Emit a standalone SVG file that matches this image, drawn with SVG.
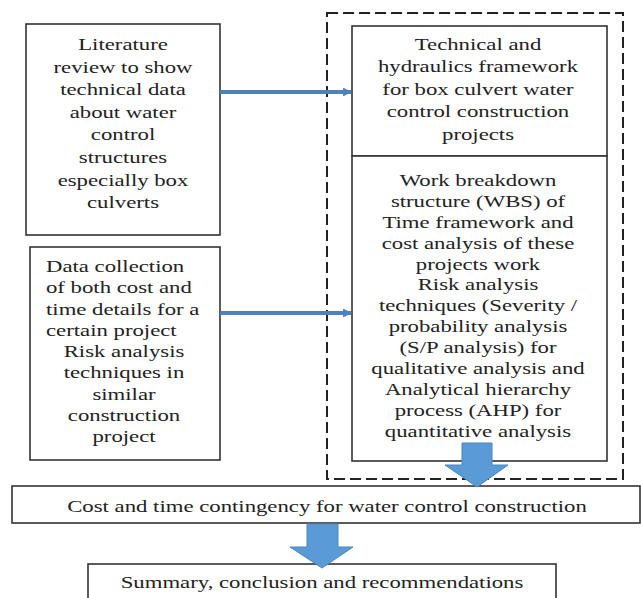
<svg xmlns="http://www.w3.org/2000/svg" width="641" height="598" viewBox="0 0 641 598">
<style>
.box{fill:#fff;stroke:#333;stroke-width:1.6}
.dash{fill:none;stroke:#222;stroke-width:2;stroke-dasharray:11 5}
.ln{stroke:#4F81BD;stroke-width:4;fill:none}
.blk{fill:#5B9BD5;stroke:#4A86C5;stroke-width:1}
.t{font-family:'Liberation Serif','Times New Roman',serif;font-size:17.5px;fill:#222}
.c{text-anchor:middle}
</style>
<defs>
<marker id="ah" viewBox="0 0 10 10" refX="9" refY="5" markerWidth="2.2" markerHeight="2.2" orient="auto" markerUnits="strokeWidth">
<path d="M0,0 L10,5 L0,10 z" fill="#4F81BD"/>
</marker>
</defs>
<rect id="group-frame" class="dash" x="327" y="13" width="296" height="466"/>
<g id="literature">
<rect class="box" x="26" y="24" width="194" height="211"/>
<g transform="translate(123,0) scale(1.3,1)" class="t c">
<text x="0" y="50">Literature</text>
<text x="0" y="72.6">review to show</text>
<text x="0" y="95.2">technical data</text>
<text x="0" y="117.8">about water</text>
<text x="0" y="140.4">control</text>
<text x="0" y="163">structures</text>
<text x="0" y="185.6">especially box</text>
<text x="0" y="208.2">culverts</text>
</g>
</g>
<g id="data-collection">
<rect class="box" x="30" y="247" width="190" height="213"/>
<g transform="translate(46,0) scale(1.3,1)" class="t">
<text x="0" y="272">Data collection</text>
<text x="0" y="293.3">of both cost and</text>
<text x="0" y="314.6">time details for a</text>
<text x="0" y="335.9">certain project</text>
</g>
<g transform="translate(124,0) scale(1.3,1)" class="t c">
<text x="0" y="357.2">Risk analysis</text>
<text x="0" y="378.5">techniques in</text>
<text x="0" y="399.8">similar</text>
<text x="0" y="421.1">construction</text>
<text x="0" y="442.4">project</text>
</g>
</g>
<g id="technical">
<rect class="box" x="352" y="26" width="255" height="130"/>
<g transform="translate(478,0) scale(1.3,1)" class="t c">
<text x="0" y="50">Technical and</text>
<text x="0" y="72.5">hydraulics framework</text>
<text x="0" y="95">for box culvert water</text>
<text x="0" y="117.5">control construction</text>
<text x="0" y="140">projects</text>
</g>
</g>
<g id="wbs">
<rect class="box" x="352" y="156" width="255" height="305"/>
<g transform="translate(478,0) scale(1.3,1)" class="t c">
<text x="0" y="186">Work breakdown</text>
<text x="0" y="206.9">structure (WBS) of</text>
<text x="0" y="227.8">Time framework and</text>
<text x="0" y="248.7">cost analysis of these</text>
<text x="0" y="269.6">projects work</text>
<text x="0" y="290.5">Risk analysis</text>
<text x="0" y="311.4">techniques (Severity /</text>
<text x="0" y="332.3">probability analysis</text>
<text x="0" y="353.2">(S/P analysis) for</text>
<text x="0" y="374.1">qualitative analysis and</text>
<text x="0" y="395">Analytical hierarchy</text>
<text x="0" y="415.9">process (AHP) for</text>
<text x="0" y="436.8">quantitative analysis</text>
</g>
</g>
<g id="contingency">
<rect class="box" x="12" y="486" width="628" height="37"/>
<g transform="translate(327,0) scale(1.3,1)" class="t c">
<text x="0" y="512">Cost and time contingency for water control construction</text>
</g>
</g>
<g id="summary">
<rect class="box" x="88" y="564" width="468" height="40"/>
<g transform="translate(322,0) scale(1.3,1)" class="t c">
<text x="0" y="588">Summary, conclusion and recommendations</text>
</g>
</g>
<g id="connectors">
<line class="ln" x1="220" y1="92" x2="351" y2="92" marker-end="url(#ah)"/>
<line class="ln" x1="220" y1="313" x2="351" y2="313" marker-end="url(#ah)"/>
<path class="blk" d="M462,443 L492,443 L492,465 L508,465 L477,487 L445,465 L462,465 Z"/>
<path class="blk" d="M307,524 L338,524 L338,547 L353,547 L322,568 L290,547 L307,547 Z"/>
</g>
</svg>
